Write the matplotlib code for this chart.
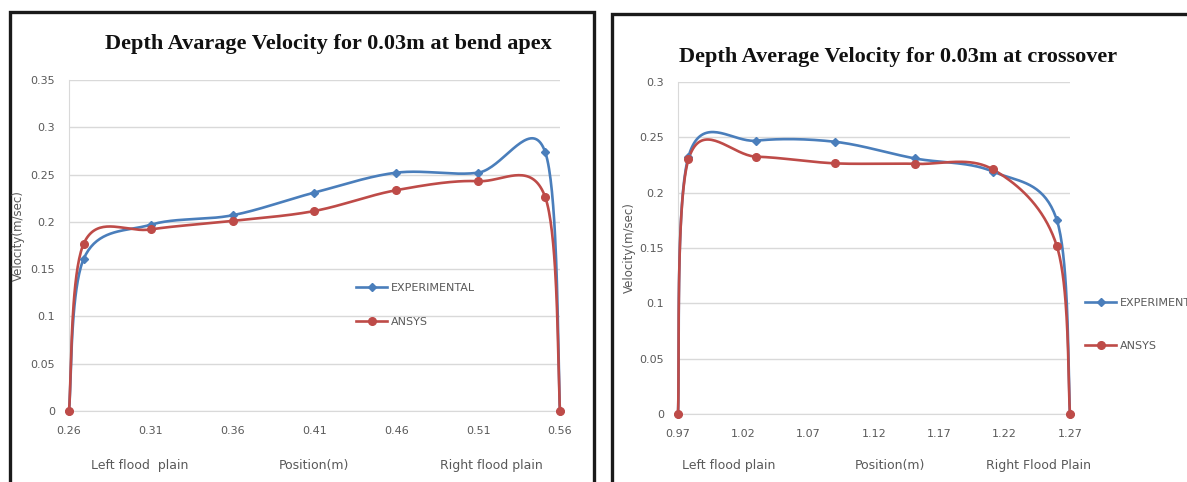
import numpy as np
import matplotlib
matplotlib.use("Agg")
import matplotlib.pyplot as plt
from matplotlib.patches import Rectangle

# ---------------- data ----------------
apex_pos = [0.26, 0.269, 0.31, 0.36, 0.41, 0.46, 0.51, 0.551, 0.56]
apex_exp = [0.0, 0.161, 0.197, 0.207, 0.231, 0.252, 0.252, 0.2735, 0.0]
apex_ansys = [0.0, 0.177, 0.192, 0.201, 0.2115, 0.2335, 0.243, 0.226, 0.0]

cross_pos = [0.97, 0.978, 1.03, 1.09, 1.151, 1.211, 1.26, 1.27]
cross_exp = [0.0, 0.2325, 0.247, 0.246, 0.231, 0.219, 0.175, 0.0]
cross_ansys = [0.0, 0.230, 0.2325, 0.2265, 0.226, 0.221, 0.1515, 0.0]

apex_xticks = [0.26, 0.31, 0.36, 0.41, 0.46, 0.51, 0.56]
apex_yticks = [0, 0.05, 0.1, 0.15, 0.2, 0.25, 0.3, 0.35]
cross_xticks = [0.97, 1.02, 1.07, 1.12, 1.17, 1.22, 1.27]
cross_yticks = [0, 0.05, 0.1, 0.15, 0.2, 0.25, 0.3]

series_names = ["EXPERIMENTAL", "ANSYS"]
title_apex = "Depth Avarage Velocity for 0.03m at bend apex"
title_cross = "Depth Average Velocity for 0.03m at crossover"
ylabel = "Velocity(m/sec)"
bottom_apex = ["Left flood  plain", "Position(m)", "Right flood plain"]
bottom_cross = ["Left flood plain", "Position(m)", "Right Flood Plain"]

BLUE = "#4a7ebb"
RED = "#be4b48"
GRAY = "#595959"
GRID = "#d9d9d9"

W, H = 1187, 482


def smooth(xs, ys, n=40):
    """Excel-like smoothed line (Catmull-Rom Bezier, tension 1/6)."""
    x = np.asarray(xs, float)
    y = np.asarray(ys, float)
    px = np.concatenate([[x[0]], x, [x[-1]]])
    py = np.concatenate([[y[0]], y, [y[-1]]])
    t = np.linspace(0, 1, n)
    ox, oy = [], []
    for i in range(1, len(px) - 2):
        p0x, p0y = px[i], py[i]
        p3x, p3y = px[i + 1], py[i + 1]
        c1x = p0x + (px[i + 1] - px[i - 1]) / 6
        c1y = p0y + (py[i + 1] - py[i - 1]) / 6
        c2x = p3x - (px[i + 2] - px[i]) / 6
        c2y = p3y - (py[i + 2] - py[i]) / 6
        b0 = (1 - t) ** 3
        b1 = 3 * (1 - t) ** 2 * t
        b2 = 3 * (1 - t) * t ** 2
        b3 = t ** 3
        ox.append(b0 * p0x + b1 * c1x + b2 * c2x + b3 * p3x)
        oy.append(b0 * p0y + b1 * c1y + b2 * c2y + b3 * p3y)
    return np.concatenate(ox), np.concatenate(oy)


def fx(px):
    return px / W


def fy(py):
    return 1 - py / H


fig = plt.figure(figsize=(W / 100, H / 100), dpi=100)
fig.patch.set_facecolor("white")

# panel borders
fig.add_artist(Rectangle((fx(10), fy(495)), fx(584), (495 - 12) / H,
                         transform=fig.transFigure, fill=False,
                         edgecolor="#1a1a1a", linewidth=2.4))
fig.add_artist(Rectangle((fx(612), fy(495)), fx(600), (495 - 14) / H,
                         transform=fig.transFigure, fill=False,
                         edgecolor="#1a1a1a", linewidth=2.4))


def make_panel(rect, pos, exp, ans, xticks, yticks, xlim, ylim, title,
               title_xy, ylab_xy, bottoms, bottom_x, leg_anchor, leg_spacing):
    ax = fig.add_axes(rect)
    for name, vals, col, mk, ms in [(series_names[0], exp, BLUE, "D", 4.5),
                                    (series_names[1], ans, RED, "o", 5.5)]:
        sx, sy = smooth(pos, vals)
        ax.plot(sx, sy, color=col, lw=1.9, solid_capstyle="round", zorder=3,
                clip_on=False)
        ax.plot(pos, vals, ls="none", marker=mk, ms=ms, color=col, zorder=4,
                clip_on=False)
        ax.plot([], [], color=col, lw=1.9, marker=mk, ms=ms, label=name)
    ax.set_xlim(*xlim)
    ax.set_ylim(*ylim)
    ax.set_xticks(xticks)
    ax.set_xticklabels([f"{v:g}" for v in xticks])
    ax.set_yticks(yticks)
    ax.set_yticklabels([f"{v:g}" for v in yticks])
    ax.tick_params(length=0, labelsize=8, labelcolor=GRAY, pad=11)
    ax.tick_params(axis="y", pad=10)
    ax.grid(axis="y", color=GRID, lw=1)
    ax.set_axisbelow(True)
    for s in ["top", "right"]:
        ax.spines[s].set_visible(False)
    ax.spines["left"].set_color(GRID)
    ax.spines["bottom"].set_color(GRID)
    ax.set_facecolor("none")
    fig.text(title_xy[0], title_xy[1], title, family="Liberation Serif",
             weight="bold", fontsize=16, ha="left", va="center",
             color="#111111")
    fig.text(ylab_xy[0], ylab_xy[1], ylabel, rotation=90, ha="center",
             va="center", fontsize=8.5, color=GRAY)
    for lab, bx in zip(bottoms, bottom_x):
        fig.text(fx(bx), fy(465), lab, ha="center", va="center",
                 fontsize=9, color=GRAY)
    leg = ax.legend(loc="upper left", bbox_to_anchor=leg_anchor,
                    bbox_transform=fig.transFigure, frameon=False,
                    fontsize=8, handlelength=2.8, handletextpad=0.3,
                    labelspacing=leg_spacing, borderpad=0, borderaxespad=0)
    for t in leg.get_texts():
        t.set_color(GRAY)
    return ax


make_panel([fx(69), fy(411), fx(560) - fx(69), (411 - 80) / H],
           apex_pos, apex_exp, apex_ansys, apex_xticks, apex_yticks,
           (0.26, 0.56), (0, 0.35), title_apex, (fx(105), fy(44)),
           (fx(18), fy(236)), bottom_apex, [140, 314, 491],
           (fx(356), fy(283)), 2.15)

make_panel([fx(678), fy(414), fx(1070) - fx(678), (414 - 82) / H],
           cross_pos, cross_exp, cross_ansys, cross_xticks, cross_yticks,
           (0.97, 1.27), (0, 0.3), title_cross, (fx(679), fy(57)),
           (fx(629), fy(248)), bottom_cross, [729, 890, 1038],
           (fx(1085), fy(298)), 3.0)

fig.savefig("out.png", dpi=100)
